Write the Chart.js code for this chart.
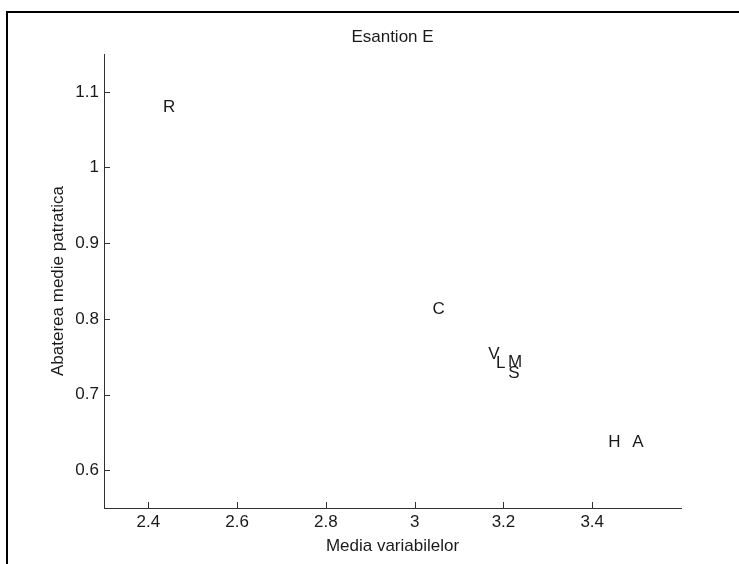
<!DOCTYPE html>
<html>
<head>
<meta charset="utf-8">
<script src="https://cdn.jsdelivr.net/npm/chart.js@4/dist/chart.umd.min.js"></script>
<style>
  html, body { margin: 0; padding: 0; background: #ffffff; }
  #wrap { position: relative; width: 739px; height: 564px; overflow: hidden; }
  #frame { position: absolute; left: 6px; top: 11px; width: 760px; height: 600px;
           border-top: 2px solid #000; border-left: 2px solid #000; box-sizing: border-box; }
  canvas { position: absolute; left: 0; top: 0; }
</style>
</head>
<body>
<div id="wrap">
  <div id="frame"></div>
  <canvas id="c" width="739" height="564"></canvas>
</div>
<script>
// ---- data ----
const labels  = ['R', 'C', 'V', 'L', 'M', 'S', 'H', 'A'];
const meanVals = [2.433, 3.040, 3.166, 3.183, 3.210, 3.211, 3.436, 3.490];
const stdVals  = [1.080, 0.812, 0.753, 0.741, 0.742, 0.728, 0.637, 0.637];
const xTicks = [2.4, 2.6, 2.8, 3, 3.2, 3.4];
const yTicks = [0.6, 0.7, 0.8, 0.9, 1, 1.1];
const titleText = 'Esantion E';
const xTitle = 'Media variabilelor';
const yTitle = 'Abaterea medie patratica';

const FONT = 'Liberation Sans, Arial, Helvetica, sans-serif';
const INK = '#1a1a1a';
const AXIS = '#303030';

const points = meanVals.map((x, i) => ({ x: x, y: stdVals[i] }));

const textLabels = {
  id: 'textLabels',
  afterDatasetsDraw(chart) {
    const ctx = chart.ctx;
    const meta = chart.getDatasetMeta(0);
    ctx.save();
    ctx.font = '17px ' + FONT;
    ctx.fillStyle = INK;
    ctx.textAlign = 'left';
    ctx.textBaseline = 'middle';
    meta.data.forEach((el, i) => {
      ctx.fillText(labels[i], el.x, el.y);
    });
    ctx.restore();
  }
};

const inwardTicks = {
  id: 'inwardTicks',
  afterDraw(chart) {
    const ctx = chart.ctx;
    const xs = chart.scales.x, ys = chart.scales.y;
    const a = chart.chartArea;
    const len = 6;
    ctx.save();
    ctx.strokeStyle = AXIS;
    ctx.lineWidth = 1;
    ctx.beginPath();
    xs.ticks.forEach(t => {
      const px = Math.round(xs.getPixelForValue(t.value)) + 0.5;
      ctx.moveTo(px, a.bottom);
      ctx.lineTo(px, a.bottom - len);
    });
    ys.ticks.forEach(t => {
      const py = Math.round(ys.getPixelForValue(t.value)) + 0.5;
      ctx.moveTo(a.left, py);
      ctx.lineTo(a.left + len, py);
    });
    ctx.stroke();
    ctx.restore();
  }
};

new Chart(document.getElementById('c'), {
  type: 'scatter',
  data: {
    datasets: [{
      data: points,
      pointRadius: 0,
      pointHoverRadius: 0,
      showLine: false
    }]
  },
  options: {
    responsive: false,
    animation: false,
    events: [],
    layout: { padding: { left: 0, right: 58, top: 0, bottom: 0 } },
    plugins: {
      legend: { display: false },
      tooltip: { enabled: false },
      title: {
        display: true,
        text: titleText,
        fullSize: false,
        color: INK,
        font: { family: FONT, size: 17, weight: 'normal', lineHeight: 1.2 },
        padding: { top: 27, bottom: 6.6 }
      }
    },
    scales: {
      x: {
        type: 'linear',
        min: 2.3,
        max: 3.6,
        afterBuildTicks(scale) { scale.ticks = xTicks.map(v => ({ value: v })); },
        afterFit(scale) { scale.height = 56; },
        grid: { display: false, drawTicks: false },
        border: { display: true, color: AXIS, width: 1 },
        ticks: {
          color: INK,
          padding: 4,
          maxRotation: 0,
          autoSkip: false,
          font: { family: FONT, size: 17, lineHeight: 1.2 },
          callback: v => String(v)
        },
        title: {
          display: true,
          text: xTitle,
          color: INK,
          font: { family: FONT, size: 17, lineHeight: 1.2 },
          padding: { top: 0, bottom: 7 }
        }
      },
      y: {
        type: 'linear',
        min: 0.55,
        max: 1.15,
        afterBuildTicks(scale) { scale.ticks = yTicks.map(v => ({ value: v })); },
        afterFit(scale) { scale.width = 104; },
        grid: { display: false, drawTicks: false },
        border: { display: true, color: AXIS, width: 1 },
        ticks: {
          color: INK,
          padding: 5,
          autoSkip: false,
          font: { family: FONT, size: 17, lineHeight: 1.2 },
          callback: v => String(v)
        },
        title: {
          display: true,
          text: yTitle,
          color: INK,
          font: { family: FONT, size: 17, lineHeight: 1.2 },
          padding: { top: 48, bottom: 0 }
        }
      }
    }
  },
  plugins: [textLabels, inwardTicks]
});
</script>
</body>
</html>
